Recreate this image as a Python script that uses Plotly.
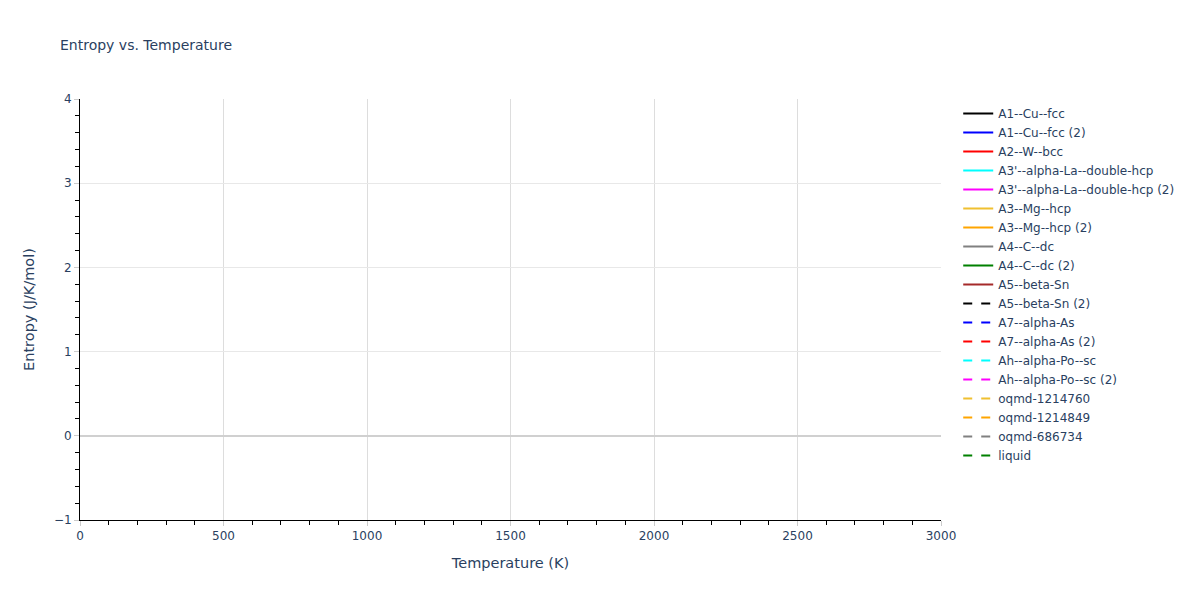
import plotly.graph_objects as go

# Series names (legend order), colours and dash styles
series_names = [
    "A1--Cu--fcc", "A1--Cu--fcc (2)", "A2--W--bcc",
    "A3'--alpha-La--double-hcp", "A3'--alpha-La--double-hcp (2)",
    "A3--Mg--hcp", "A3--Mg--hcp (2)", "A4--C--dc", "A4--C--dc (2)",
    "A5--beta-Sn", "A5--beta-Sn (2)", "A7--alpha-As", "A7--alpha-As (2)",
    "Ah--alpha-Po--sc", "Ah--alpha-Po--sc (2)", "oqmd-1214760",
    "oqmd-1214849", "oqmd-686734", "liquid",
]
series_colors = [
    "black", "blue", "red", "cyan", "magenta", "#f0c030", "orange", "gray",
    "green", "brown", "black", "blue", "red", "cyan", "magenta", "#f0c030",
    "orange", "gray", "green",
]
series_dash = ["solid"] * 10 + ["dash"] * 9

# Data: the reference shows no visible data points for any series
temperature = {name: [None] for name in series_names}
entropy = {name: [None] for name in series_names}

fig = go.Figure()
for name, color, dash in zip(series_names, series_colors, series_dash):
    fig.add_trace(go.Scatter(
        x=temperature[name], y=entropy[name], mode="lines", name=name,
        line=dict(color=color, dash=dash, width=2),
    ))

fig.update_layout(
    template="plotly_white",
    width=1200, height=600,
    title=dict(text="Entropy vs. Temperature", x=0.05, y=0.925,
               yanchor="middle", font=dict(size=14, color="#2a3f5f")),
    margin=dict(l=80, r=259, t=99, b=80),
    font=dict(family="DejaVu Sans, Verdana, sans-serif", size=12,
              color="#2a3f5f"),
    legend=dict(x=1.02, y=1, xanchor="left", yanchor="top",
                font=dict(size=12)),
    xaxis=dict(
        title=dict(text="Temperature (K)", font=dict(size=14.5)),
        range=[0, 3000], dtick=500,
        showline=True, linecolor="black", linewidth=1,
        ticks="outside", ticklen=5, tickcolor="#cccccc",
        minor=dict(ticks="outside", ticklen=4, dtick=100, tickcolor="black",
                   showgrid=False),
        showgrid=True, gridcolor="#dddddd", gridwidth=1,
        zeroline=False,
    ),
    yaxis=dict(
        title=dict(text="Entropy (J/K/mol)", font=dict(size=14.5)),
        range=[-1, 4], dtick=1,
        showline=True, linecolor="black", linewidth=1,
        ticks="outside", ticklen=5, tickcolor="#cccccc",
        minor=dict(ticks="outside", ticklen=4, dtick=0.2, tickcolor="black",
                   showgrid=False),
        showgrid=True, gridcolor="#e8e8e8", gridwidth=1,
        zeroline=True, zerolinecolor="#d0d0d0", zerolinewidth=2,
    ),
)

fig.write_html("out.html",
               config={"displayModeBar": False},
               post_script="document.body.style.margin='0px';")
